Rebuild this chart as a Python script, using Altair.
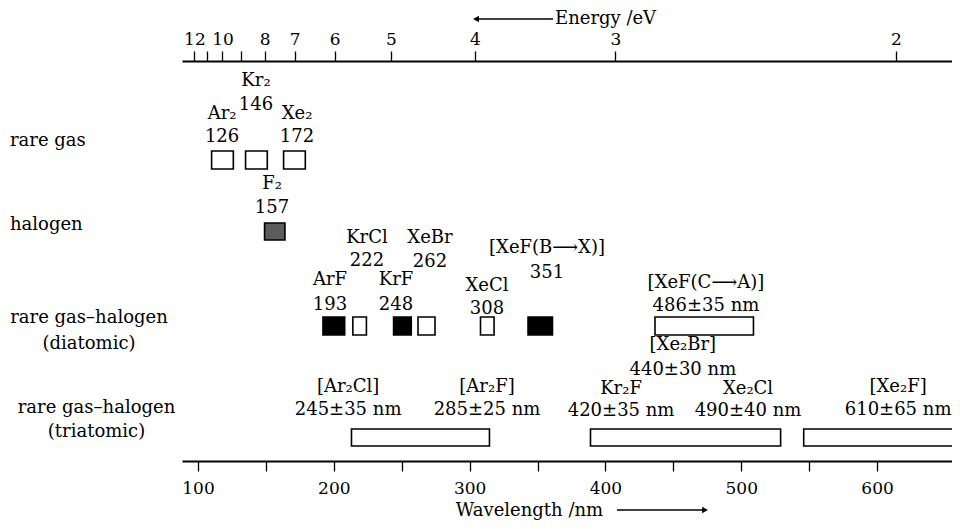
import altair as alt
import pandas as pd

FONT = "DejaVu Serif"

# ---------------- data ----------------
# emission bands (wavelength extents in nm, as drawn)
box_names = ["Ar₂", "Kr₂", "Xe₂", "F₂", "ArF", "KrCl", "KrF", "XeBr", "XeCl",
             "XeF(B→X)", "XeF(C→A)", "Ar₂Cl/Ar₂F", "Kr₂F/Xe₂Br/Xe₂Cl", "Xe₂F"]
box_lo = [110, 135, 163, 149, 192, 214, 244, 262, 308, 343, 436.5, 213, 389, 546]
box_hi = [126, 151, 179, 164, 208, 224, 257, 274.5, 318, 361, 509, 314.6, 529, 675]
box_row = ["rare gas", "rare gas", "rare gas", "halogen", "diatomic", "diatomic",
           "diatomic", "diatomic", "diatomic", "diatomic", "diatomic",
           "triatomic", "triatomic", "triatomic"]
box_kind = ["open", "open", "open", "stipple", "solid", "open", "solid", "open",
            "open", "solid", "open", "open", "open", "open"]

# species labels
label_names = ["Ar₂", "Kr₂", "Xe₂", "F₂", "ArF", "KrCl", "KrF", "XeBr", "XeCl",
               "[XeF(B⟶X)]", "[XeF(C⟶A)]", "[Xe₂Br]", "[Ar₂Cl]", "[Ar₂F]",
               "Kr₂F", "Xe₂Cl", "[Xe₂F]"]
label_values = ["126", "146", "172", "157", "193", "222", "248", "262", "308",
                "351", "486±35 nm", "440±30 nm", "245±35 nm", "285±25 nm",
                "420±35 nm", "490±40 nm", "610±65 nm"]
label_x = [117.7, 142.7, 172.9, 154.5, 197.2, 224.4, 245.8, 270.8, 312.8,
           357, 474, 457, 210.5, 312.8, 411.5, 505, 615.5]

# energy axis (eV)
energy_ticks = [12, 11, 10, 9, 8, 7, 6, 5, 4, 3, 2]
wavelength_ticks = [100, 150, 200, 250, 300, 350, 400, 450, 500, 550, 600]

row_names = ["rare gas", "halogen", "diatomic", "triatomic"]
row_labels = ["rare gas", "halogen", "rare gas–halogen\n(diatomic)",
              "rare gas–halogen\n(triatomic)"]

# ---------------- layout (styling, not data) ----------------
W, H = 770, 400
X_DOMAIN = [88.2, 655.2]
TOP_DOMAIN = [94.2, 661.2]
row_top = {"rare gas": 90, "halogen": 162, "diatomic": 256, "triatomic": 368}
row_bot = {"rare gas": 108, "halogen": 179, "diatomic": 274, "triatomic": 385}
name_y = [53, 20, 53, 123, 219, 177, 219, 177, 225, 187, 222, 284, 326, 326, 328, 328, 326]
value_y = [76, 43.5, 76, 147, 244, 200, 244, 201, 248, 211.5, 245, 309, 349, 349, 350, 350, 349]
row_lab_x = [-172, -172, -93, -85.5]
row_lab_y = [80, 164, 257, 347]
row_lab_align = ["left", "left", "center", "center"]

boxes = pd.DataFrame({
    "name": box_names, "lo": box_lo, "hi": box_hi, "kind": box_kind,
    "top": [row_top[r] for r in box_row], "bot": [row_bot[r] for r in box_row],
})
labels = pd.DataFrame({"name": label_names, "value": label_values, "x": label_x,
                       "ny": name_y, "vy": value_y})

xs = alt.Scale(domain=X_DOMAIN, nice=False, zero=False)
ys = alt.Scale(domain=[0, H], reverse=True, nice=False, zero=False)

rects = alt.Chart(boxes).mark_rect(stroke="black", strokeWidth=1.6, clip=True).encode(
    x=alt.X("lo:Q", scale=xs, axis=alt.Axis(
        orient="bottom", values=wavelength_ticks, tickSize=10, tickWidth=1.3,
        labelPadding=9, labelFontSize=17,
        labelExpr="datum.value % 100 == 0 ? datum.label : ''", title=None)),
    x2="hi:Q",
    y=alt.Y("top:Q", scale=ys, axis=None),
    y2="bot:Q",
    fill=alt.Fill("kind:N", scale=alt.Scale(domain=["open", "stipple", "solid"],
                                           range=["white", "#5c5c5c", "black"]),
                  legend=None),
)

txt = dict(font=FONT, fontSize=18, color="black", baseline="middle", align="center")
names = alt.Chart(labels).mark_text(**txt).encode(
    x=alt.X("x:Q", scale=xs, axis=None), y=alt.Y("ny:Q", scale=ys, axis=None),
    text="name:N")
values = alt.Chart(labels).mark_text(**txt).encode(
    x=alt.X("x:Q", scale=xs, axis=None), y=alt.Y("vy:Q", scale=ys, axis=None),
    text="value:N")

row_layers = []
for lab, lx, ly, la in zip(row_labels, row_lab_x, row_lab_y, row_lab_align):
    lh = 26 if "diatomic" in lab else 24
    row_layers.append(
        alt.Chart(pd.DataFrame({"t": [lab]})).mark_text(
            font=FONT, fontSize=18, color="black", baseline="middle", align=la,
            lineBreak="\n", lineHeight=lh).encode(
            x=alt.value(lx), y=alt.value(ly), text="t:N"))

one = pd.DataFrame({"t": ["Energy /eV"]})
energy_title = alt.Chart(one).mark_text(font=FONT, fontSize=18, align="left",
                                        baseline="middle", color="black").encode(
    x=alt.value(373), y=alt.value(-42), text="t:N")
energy_rule = alt.Chart(one).mark_rule(color="black", strokeWidth=1.3).encode(
    x=alt.value(296), x2=alt.value(371), y=alt.value(-42), y2=alt.value(-42))
energy_head = alt.Chart(one).mark_point(shape="triangle-left", filled=True,
                                        color="black", size=45, opacity=1).encode(
    x=alt.value(294), y=alt.value(-42))

WL_Y = 450
wl = pd.DataFrame({"t": ["Wavelength /nm"]})
wl_title = alt.Chart(wl).mark_text(font=FONT, fontSize=18, align="center",
                                   baseline="middle", color="black").encode(
    x=alt.value(347.5), y=alt.value(WL_Y), text="t:N")
wl_rule = alt.Chart(wl).mark_rule(color="black", strokeWidth=1.3).encode(
    x=alt.value(435), x2=alt.value(521), y=alt.value(WL_Y - 1), y2=alt.value(WL_Y - 1))
wl_head = alt.Chart(wl).mark_point(shape="triangle-right", filled=True,
                                   color="black", size=45, opacity=1).encode(
    x=alt.value(523), y=alt.value(WL_Y - 1))

energy_df = pd.DataFrame({"nm": [1239.84 / e for e in energy_ticks]})
top_axis = alt.Chart(energy_df).mark_point(opacity=0).encode(
    x=alt.X("nm:Q", scale=alt.Scale(domain=TOP_DOMAIN, nice=False, zero=False),
            axis=alt.Axis(orient="top", values=[1239.84 / e for e in energy_ticks],
                          tickSize=10, tickWidth=1.3, labelPadding=3,
                          labelFontSize=17, title=None,
                          labelExpr="(abs(1239.84/datum.value - 11) < 0.3 || "
                                    "abs(1239.84/datum.value - 9) < 0.3) ? '' : "
                                    "format(1239.84/datum.value, '.0f')")),
    y=alt.value(0))

chart = alt.layer(
    rects, names, values, *row_layers, energy_rule, energy_head, energy_title,
    wl_rule, wl_head, wl_title, top_axis
).resolve_scale(x="independent").properties(
    width=W, height=H,
    autosize=alt.AutoSizeParams(type="none"),
    padding={"left": 174, "top": 53, "right": 0, "bottom": 60},
    background="white",
).configure_view(stroke=None).configure_axis(
    grid=False, domainColor="black", domainWidth=2, tickColor="black",
    labelColor="black", labelFont=FONT,
)

chart.save("out.html", embed_options={"renderer": "svg", "actions": False})
